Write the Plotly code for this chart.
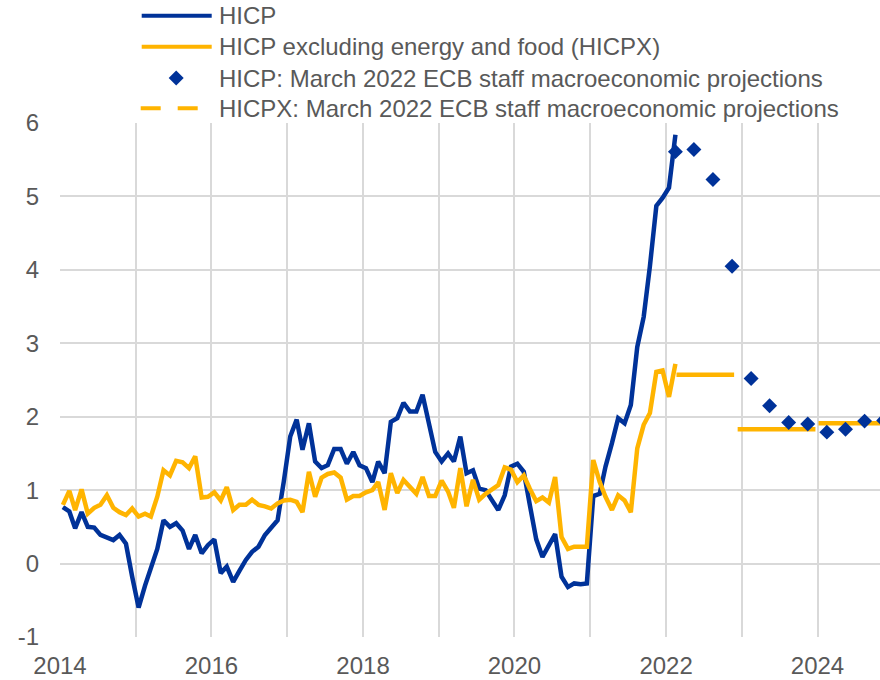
import datetime as dt
import plotly.graph_objects as go

# ---------------- data ----------------
start_year, start_month = 2014, 1
hicp = [0.77, 0.71, 0.48, 0.70, 0.50, 0.49, 0.39, 0.36, 0.32, 0.39, 0.27, -0.18,
        -0.60, -0.30, -0.05, 0.20, 0.59, 0.50, 0.55, 0.45, 0.20, 0.39, 0.14, 0.25,
        0.33, -0.13, -0.04, -0.25, -0.10, 0.05, 0.16, 0.23, 0.39, 0.49, 0.59, 1.12,
        1.73, 1.96, 1.55, 1.91, 1.39, 1.30, 1.34, 1.56, 1.56, 1.36, 1.52, 1.34,
        1.30, 1.11, 1.39, 1.23, 1.93, 1.98, 2.19, 2.07, 2.07, 2.30, 1.93, 1.52,
        1.39, 1.50, 1.39, 1.73, 1.23, 1.27, 1.02, 1.00, 0.86, 0.73, 0.93, 1.32,
        1.36, 1.25, 0.80, 0.33, 0.09, 0.25, 0.40, -0.18, -0.32, -0.27, -0.28, -0.27,
        0.92, 0.95, 1.32, 1.64, 1.98, 1.91, 2.16, 2.95, 3.36, 4.05, 4.87, 4.98,
        5.12, 5.84]
hicpx = [0.80, 0.99, 0.73, 1.01, 0.68, 0.76, 0.80, 0.93, 0.76, 0.70, 0.66, 0.75,
         0.64, 0.68, 0.64, 0.91, 1.27, 1.20, 1.40, 1.38, 1.30, 1.46, 0.90, 0.91,
         0.97, 0.86, 1.04, 0.73, 0.80, 0.80, 0.87, 0.80, 0.78, 0.75, 0.82, 0.86,
         0.87, 0.84, 0.70, 1.25, 0.91, 1.17, 1.22, 1.24, 1.17, 0.87, 0.92, 0.92,
         0.97, 1.00, 1.11, 0.73, 1.23, 0.96, 1.14, 1.04, 0.95, 1.18, 0.92, 0.92,
         1.13, 0.98, 0.76, 1.30, 0.78, 1.14, 0.87, 0.95, 1.01, 1.07, 1.31, 1.28,
         1.11, 1.20, 1.02, 0.85, 0.90, 0.83, 1.18, 0.36, 0.20, 0.23, 0.23, 0.23,
         1.41, 1.11, 0.91, 0.73, 0.93, 0.86, 0.70, 1.57, 1.89, 2.05, 2.61, 2.63,
         2.27, 2.72]

# March 2022 ECB staff projections
proj_quarters = ["2022Q1", "2022Q2", "2022Q3", "2022Q4", "2023Q1", "2023Q2",
                 "2023Q3", "2023Q4", "2024Q1", "2024Q2", "2024Q3", "2024Q4"]
hicp_proj = [5.61, 5.64, 5.23, 4.05, 2.52, 2.15, 1.92, 1.90, 1.79, 1.83, 1.94, 1.95]

hicpx_proj_years = [2022, 2023, 2024]
hicpx_proj = [2.57, 1.83, 1.91]
hicpx_proj_start = ["2022-02-20", "2022-12-12", "2024-01-06"]
hicpx_proj_end = ["2022-11-25", "2023-12-22", "2024-12-31"]

legend_labels = ["HICP",
                 "HICP excluding energy and food (HICPX)",
                 "HICP: March 2022 ECB staff macroeconomic projections",
                 "HICPX: March 2022 ECB staff macroeconomic projections"]

year_ticks = list(range(2014, 2026))
y_ticks = [-1, 0, 1, 2, 3, 4, 5, 6]
y_ticktext = ["-1", "0", "1", "2", "3", "4", "5", "6"]
x_range = ["2014-01-01", "2025-02-21"]

# ---------------- derived ----------------
def month_mid(i):
    y = start_year + (start_month - 1 + i) // 12
    m = (start_month - 1 + i) % 12 + 1
    return dt.date(y, m, 15).isoformat()

dates = [month_mid(i) for i in range(len(hicp))]

def quarter_mid(q):
    y, qq = int(q[:4]), int(q[-1])
    return dt.date(y, 3 * qq - 1, 15).isoformat()

proj_dates = [quarter_mid(q) for q in proj_quarters]

seg_x, seg_y = [], []
for s, e, v in zip(hicpx_proj_start, hicpx_proj_end, hicpx_proj):
    seg_x += [s, e, None]
    seg_y += [v, v, None]

BLUE = "#003299"
YELLOW = "#FFB400"
GRID = "#d9d9d9"
TXT = "#595959"
LW = 4.5

# figure is slightly wider than the 880px window: the right edge is cropped
W, H = 904, 680
ML, MR, MT, MB = 60, 0, 123, 43
PW, PH = W - ML - MR, H - MT - MB

def px_x(px):
    return (px - ML) / PW

def px_y(py):
    return 1 + (MT - py) / PH

fig = go.Figure()
fig.add_trace(go.Scatter(x=dates, y=hicp, mode="lines", name=legend_labels[0],
                         line=dict(color=BLUE, width=LW)))
fig.add_trace(go.Scatter(x=dates, y=hicpx, mode="lines", name=legend_labels[1],
                         line=dict(color=YELLOW, width=LW)))
fig.add_trace(go.Scatter(x=seg_x, y=seg_y, mode="lines", name=legend_labels[3],
                         line=dict(color=YELLOW, width=LW)))
fig.add_trace(go.Scatter(x=proj_dates, y=hicp_proj, mode="markers",
                         name=legend_labels[2],
                         marker=dict(symbol="diamond", size=11.5, color=BLUE),
                         cliponaxis=False))

# ---------------- legend (drawn in the top margin) ----------------
row_y = [15.7, 46.7, 78.0, 108.3]
sym_x0, sym_x1, text_x = 141.7, 211.7, 217.0
shapes = []
annotations = []
for r, col in [(0, BLUE), (1, YELLOW)]:
    shapes.append(dict(type="line", xref="paper", yref="paper",
                       x0=px_x(sym_x0), x1=px_x(sym_x1),
                       y0=px_y(row_y[r]), y1=px_y(row_y[r]),
                       line=dict(color=col, width=4)))
shapes.append(dict(type="path", xref="paper", yref="paper",
                   xsizemode="pixel", ysizemode="pixel",
                   xanchor=px_x((sym_x0 + sym_x1) / 2 - 0.5), yanchor=px_y(row_y[2]),
                   path="M0,7.5 L7.5,0 L0,-7.5 L-7.5,0 Z",
                   fillcolor=BLUE, line=dict(width=0)))
shapes.append(dict(type="line", xref="paper", yref="paper",
                   x0=px_x(sym_x0 - 1), x1=px_x(sym_x1),
                   y0=px_y(row_y[3]), y1=px_y(row_y[3]),
                   line=dict(color=YELLOW, width=4, dash="20px,17px")))
for r, lab in enumerate(legend_labels):
    annotations.append(dict(text=lab, xref="paper", yref="paper",
                            x=px_x(text_x), y=px_y(row_y[r]),
                            xanchor="left", yanchor="middle", showarrow=False,
                            font=dict(size=24, color=TXT)))

fig.update_layout(
    width=W, height=H,
    margin=dict(l=ML, r=MR, t=MT, b=MB),
    plot_bgcolor="white", paper_bgcolor="white",
    font=dict(family="Liberation Sans, Arial, sans-serif", color=TXT, size=24),
    showlegend=False,
    shapes=shapes, annotations=annotations,
)
fig.update_xaxes(
    type="date", range=x_range,
    tickmode="array",
    tickvals=[f"{y}-01-01" for y in year_ticks],
    ticktext=[str(y) if (y - year_ticks[0]) % 2 == 0 and y <= 2024 else ""
              for y in year_ticks],
    showgrid=True, gridcolor=GRID, gridwidth=1.5,
    showline=False, zeroline=False, ticks="",
    tickfont=dict(size=24, color=TXT), ticklabelstandoff=12,
)
fig.update_yaxes(
    range=[-1, 6], tickmode="array", tickvals=y_ticks, ticktext=y_ticktext,
    showgrid=True, gridcolor=GRID, gridwidth=1.5,
    zeroline=True, zerolinecolor=GRID, zerolinewidth=2,
    showline=False, ticks="",
    tickfont=dict(size=24, color=TXT), ticklabelstandoff=20,
)
fig.write_html("out.html",
               config={"displayModeBar": False},
               post_script="document.body.style.margin='0';"
                           "document.body.style.padding='0';"
                           "document.body.style.overflow='hidden';")
